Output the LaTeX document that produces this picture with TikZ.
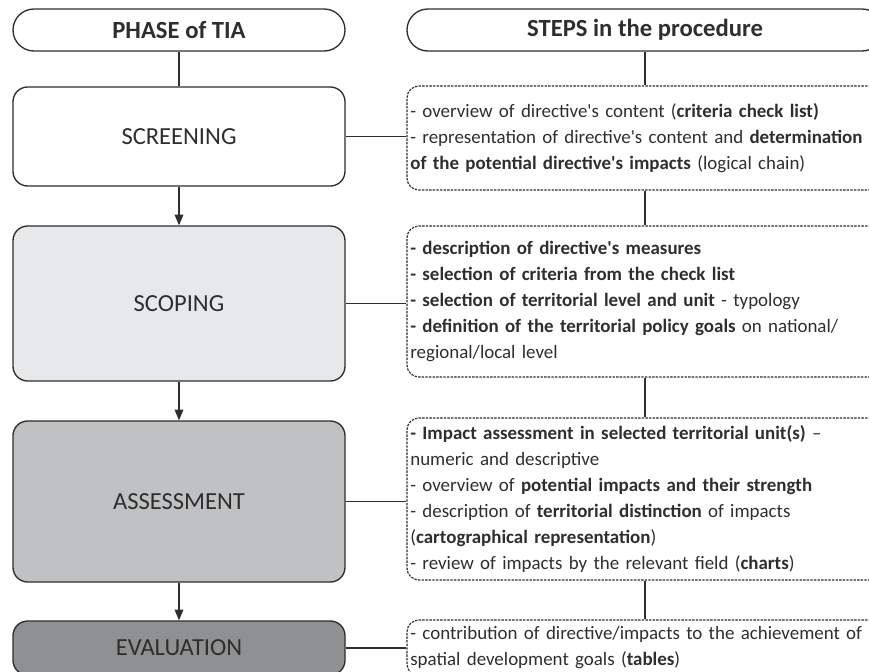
\documentclass[tikz,border=0pt]{standalone}
\usepackage{fontspec}
\setmainfont{Carlito}
\usetikzlibrary{arrows.meta}
\definecolor{ink}{HTML}{2E2E2E}
\definecolor{fillA}{HTML}{E7E8EA}
\definecolor{fillB}{HTML}{C0C1C3}
\definecolor{fillC}{HTML}{8F9092}
\newcommand{\ap}{\textquotesingle}
\begin{document}
\begin{tikzpicture}[x=0.75pt,y=-0.75pt,
  every node/.style={text=ink},
  head/.style={draw=ink, line width=1pt, rounded corners=15.7pt, minimum height=31.5pt,
    inner sep=0pt, font=\bfseries\fontsize{18.5}{21}\selectfont},
  phase/.style={draw=ink, line width=1pt, rounded corners=11pt, minimum width=249pt,
    inner sep=0pt, font=\fontsize{18.4}{21}\selectfont},
  stepbox/.style={draw=ink, line width=0.9pt, dash pattern=on 1.8pt off 0.9pt,
    rounded corners=9pt, minimum width=357pt, text width=352pt, align=left,
    inner xsep=2.5pt, inner ysep=0pt, font=\fontsize{14.2}{19.5}\selectfont},
  link/.style={draw=ink, line width=0.85pt},
  flow/.style={link, -{Triangle[length=8pt,width=6.5pt]}}
]
\useasboundingbox (0,0) rectangle (869,672);
\clip (0,0) rectangle (869,672);

% column headers
\node[head, minimum width=249pt] (hL) at (179,30) {PHASE of TIA};
\node[head, minimum width=357pt] (hR) at (645,30) {STEPS in the procedure};

% phases
\node[phase, fill=white, minimum height=74.25pt] (scr) at (179,136.5) {SCREENING};
\node[phase, fill=fillA, minimum height=116.25pt] (sco) at (179,303.5) {SCOPING};
\node[phase, fill=fillB, minimum height=120.75pt] (ass) at (179,501.5) {ASSESSMENT};
\node[phase, fill=fillC, minimum height=40.5pt]   (eva) at (179,648) {EVALUATION};

% steps
\node[stepbox, minimum height=78pt] (scrR) at (645,138) {%
- overview of directive\ap s content (\textbf{criteria check list)}\\
- representation of directive\ap s content and \textbf{determination}\\
\textbf{of the potential directive\ap s impacts} (logical chain)};

\node[stepbox, minimum height=113.25pt] (scoR) at (645,301.5) {%
\textbf{- description of directive\ap s measures}\\
\textbf{- selection of criteria from the check list}\\
\textbf{- selection of territorial level and unit} - typology\\
\textbf{- definition of the territorial policy goals} on national/\\
regional/local level};

\node[stepbox, minimum height=121.5pt] (assR) at (645,499) {%
\textbf{- Impact assessment in selected territorial unit(s)} --\\
numeric and descriptive\\
- overview of \textbf{potential impacts and their strength}\\
- description of \textbf{territorial distinction} of impacts\\
(\textbf{cartographical representation})\\
- review of impacts by the relevant field (\textbf{charts})};

\node[stepbox, minimum height=42pt] (evaR) at (645,648) {%
- contribution of directive/impacts to the achievement of\\
spatial development goals (\textbf{tables})};

% vertical links
\draw[link] (hL.south) -- (scr.north);
\draw[flow] (scr.south) -- (sco.north);
\draw[flow] (sco.south) -- (ass.north);
\draw[flow] (ass.south) -- (eva.north);

\draw[link] (hR.south) -- (scrR.north);
\draw[link] (scrR.south) -- (scoR.north);
\draw[link] (scoR.south) -- (assR.north);
\draw[link] (assR.south) -- (evaR.north);

% horizontal links
\draw[link] (scr.east) -- (scr.east -| scrR.west);
\draw[link] (sco.east) -- (sco.east -| scoR.west);
\draw[link] (ass.east) -- (ass.east -| assR.west);
\draw[link] (eva.east) -- (eva.east -| evaR.west);
\end{tikzpicture}
\end{document}
